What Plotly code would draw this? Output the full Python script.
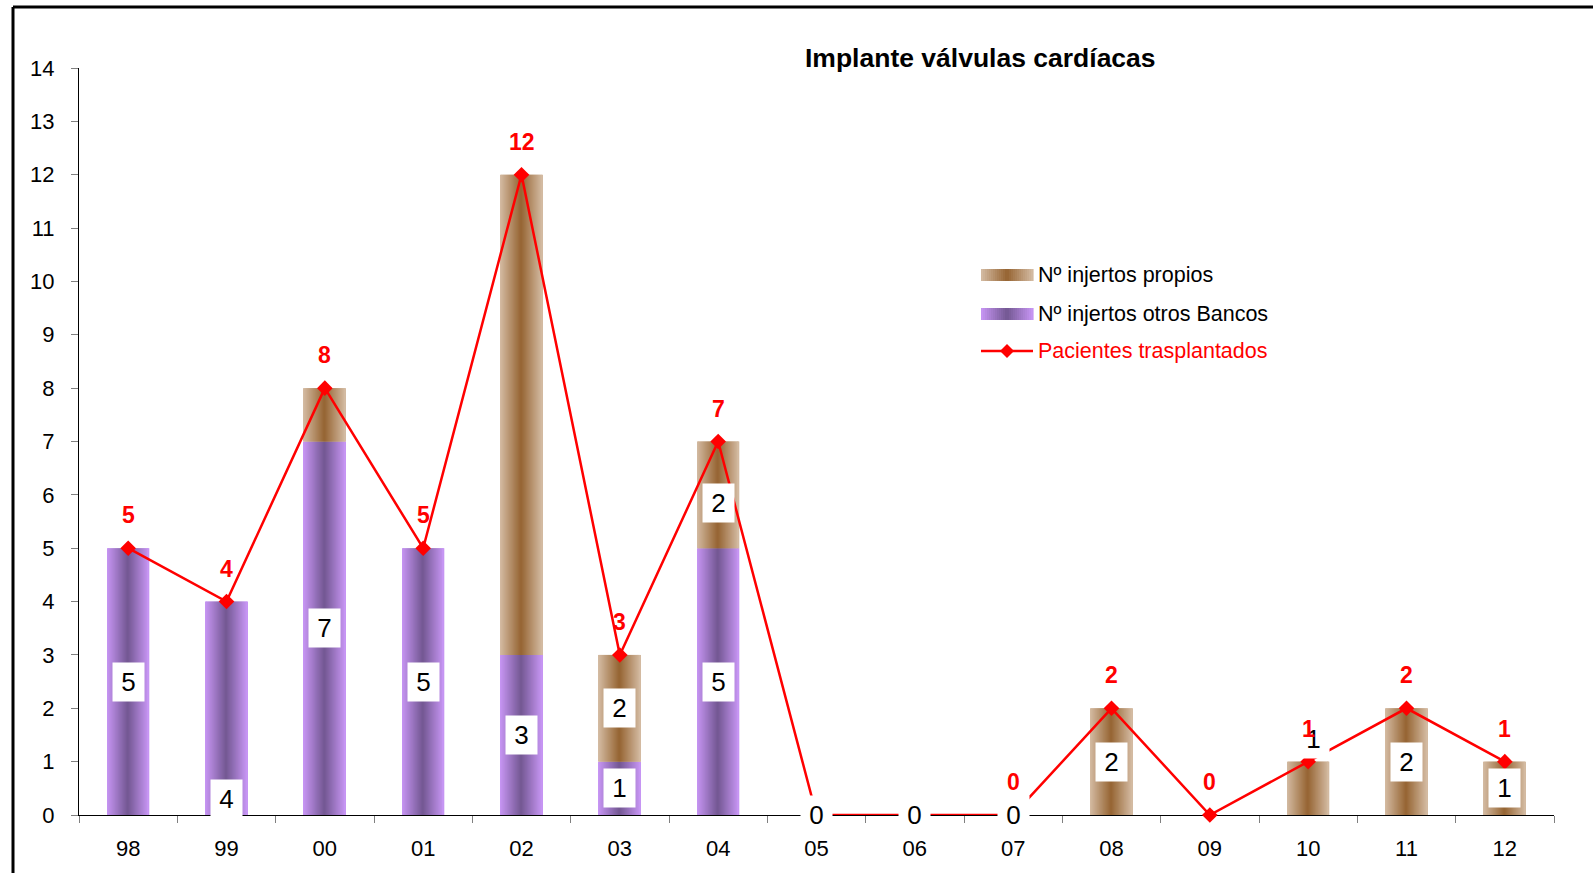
import plotly.graph_objects as go

# datos del grafico
anios = ["98", "99", "00", "01", "02", "03", "04", "05", "06", "07", "08", "09", "10", "11", "12"]
otros_bancos = [5, 4, 7, 5, 3, 1, 5, 0, 0, 0, 0, 0, 0, 0, 0]
propios = [0, 0, 1, 0, 9, 2, 2, 0, 0, 0, 2, 0, 1, 2, 1]
pacientes = [5, 4, 8, 5, 12, 3, 7, 0, 0, 0, 2, 0, 1, 2, 1]

# etiquetas visibles ("" = sin etiqueta)
etiq_otros = ["5", "4", "7", "5", "3", "1", "5", "0", "0", "0", "", "", "", "", ""]
etiq_propios = ["", "", "", "", "", "2", "2", "", "", "", "2", "", "1", "2", "1"]
etiq_pacientes = ["5", "4", "8", "5", "12", "3", "7", "", "", "0", "2", "0", "1", "2", "1"]

titulo = "Implante válvulas cardíacas"
nombres = ["Nº injertos propios", "Nº injertos otros Bancos", "Pacientes trasplantados"]

FUENTE = "Liberation Sans, Arial, sans-serif"
ROJO = "#FF0000"
morado_centro, morado_borde = (115, 88, 146), (200, 150, 245)
marron_centro, marron_borde = (150, 100, 50), (212, 188, 164)

# area de trazado en pixeles
L, R, T, B = 79, 1554, 68, 815


def px(x):
    return (x - L) / (R - L)


def py(y):
    return (B - y) / (B - T)


def mezcla(c1, c2, t):
    return "rgb(%d,%d,%d)" % tuple(round(a + (b - a) * t) for a, b in zip(c1, c2))


fig = go.Figure()

# barras con degradado: tiras verticales superpuestas
ancho = 0.43
n_tiras = 42
w = ancho / n_tiras
for serie, base, c_centro, c_borde in [
    (otros_bancos, None, morado_centro, morado_borde),
    (propios, otros_bancos, marron_centro, marron_borde),
]:
    for i in range(n_tiras):
        pos = -ancho / 2 + (i + 0.5) * w
        t = abs(pos) / (ancho / 2)
        izq = max(pos - w, -ancho / 2)
        der = min(pos + w, ancho / 2)
        fig.add_trace(go.Bar(
            x=anios, y=serie, base=base,
            width=der - izq, offset=izq,
            marker=dict(color=mezcla(c_centro, c_borde, t), line_width=0),
            showlegend=False, hoverinfo="skip",
        ))

fig.add_trace(go.Scatter(
    x=anios, y=pacientes, mode="lines+markers",
    line=dict(color=ROJO, width=2.5),
    marker=dict(symbol="diamond", size=12, color=ROJO),
    cliponaxis=False, showlegend=False, name=nombres[2],
))

anotaciones = []

# etiquetas blancas de las barras (x = indice de categoria)
ajuste_y = {("otros", 1): 0.3, ("propios", 6): 5.85, ("propios", 12): 1.42}
ajuste_x = {("propios", 12): 5}
for clave, serie, etiq, base in [
    ("otros", otros_bancos, etiq_otros, [0] * len(anios)),
    ("propios", propios, etiq_propios, otros_bancos),
]:
    for i, txt in enumerate(etiq):
        if not txt:
            continue
        yv = ajuste_y.get((clave, i), base[i] + serie[i] / 2)
        anotaciones.append(dict(
            x=i, y=yv, xref="x", yref="y", text=txt, showarrow=False,
            xshift=ajuste_x.get((clave, i), 0),
            bgcolor="white", width=29, height=36, borderpad=1,
            font=dict(size=26, color="black", family=FUENTE),
        ))

# etiquetas rojas de pacientes
for i, txt in enumerate(etiq_pacientes):
    if not txt:
        continue
    anotaciones.append(dict(
        x=i, y=pacientes[i], xref="x", yref="y", text="<b>" + txt + "</b>",
        showarrow=False, yshift=33,
        font=dict(size=23, color=ROJO, family=FUENTE),
    ))

# titulo
anotaciones.append(dict(
    x=px(980), y=py(58), xref="paper", yref="paper", text="<b>" + titulo + "</b>",
    xanchor="center", yanchor="middle",
    showarrow=False, font=dict(size=26.5, color="black", family=FUENTE),
))

# leyenda manual
formas = []
filas = [275, 314, 351]
for fila, (c_centro, c_borde) in zip(filas[:2], [(marron_centro, marron_borde), (morado_centro, morado_borde)]):
    n = 26
    for j in range(n):
        x0 = 981 + j * 2
        t = abs(x0 + 1 - 1007) / 26
        formas.append(dict(
            type="rect", xref="paper", yref="paper",
            x0=px(x0), x1=px(x0 + 2.6), y0=py(fila + 6), y1=py(fila - 6),
            fillcolor=mezcla(c_centro, c_borde, t), line_width=0,
        ))
formas.append(dict(type="line", xref="paper", yref="paper",
                   x0=px(981), x1=px(1033), y0=py(filas[2]), y1=py(filas[2]),
                   line=dict(color=ROJO, width=2.5)))
cx, cy, d = 1007, filas[2], 7
formas.append(dict(
    type="path", xref="paper", yref="paper",
    path="M %f,%f L %f,%f L %f,%f L %f,%f Z" % (
        px(cx), py(cy - d), px(cx + d), py(cy), px(cx), py(cy + d), px(cx - d), py(cy)),
    fillcolor=ROJO, line_width=0,
))
for fila, nombre, color in zip(filas, nombres, ["black", "black", ROJO]):
    anotaciones.append(dict(
        x=px(1036), y=py(fila), xref="paper", yref="paper", text=nombre,
        xanchor="left", yanchor="middle", showarrow=False,
        font=dict(size=21.5, color=color, family=FUENTE),
    ))

# marco exterior (izquierda y arriba)
formas.append(dict(type="line", xref="paper", yref="paper",
                   x0=px(13), x1=px(13), y0=py(7), y1=py(900),
                   line=dict(color="black", width=3)))
formas.append(dict(type="line", xref="paper", yref="paper",
                   x0=px(13), x1=px(1650), y0=py(7), y1=py(7),
                   line=dict(color="black", width=3)))

fig.update_layout(
    barmode="overlay",
    width=1593, height=873,
    margin=dict(l=L, r=1593 - R, t=T, b=873 - B),
    paper_bgcolor="white", plot_bgcolor="white",
    font=dict(family=FUENTE, color="black"),
    showlegend=False,
    annotations=anotaciones,
    shapes=formas,
    xaxis=dict(
        type="category", range=[-0.5, 14.5],
        showline=True, linecolor="black", linewidth=1, layer="below traces",
        ticks="outside", tickson="boundaries", ticklen=7, tickcolor="#808080",
        tickfont=dict(size=22), ticklabelstandoff=14, showgrid=False,
    ),
    yaxis=dict(
        range=[0, 14], tick0=0, dtick=1,
        showline=True, linecolor="black", linewidth=1,
        ticks="outside", ticklen=7, tickcolor="#808080",
        tickfont=dict(size=22), ticklabelstandoff=12,
        showgrid=False, zeroline=False,
    ),
)

# sin margen del body para que la figura ocupe la ventana
fig.write_html("out.html", config={"displayModeBar": False},
               post_script="document.body.style.margin='0';")
